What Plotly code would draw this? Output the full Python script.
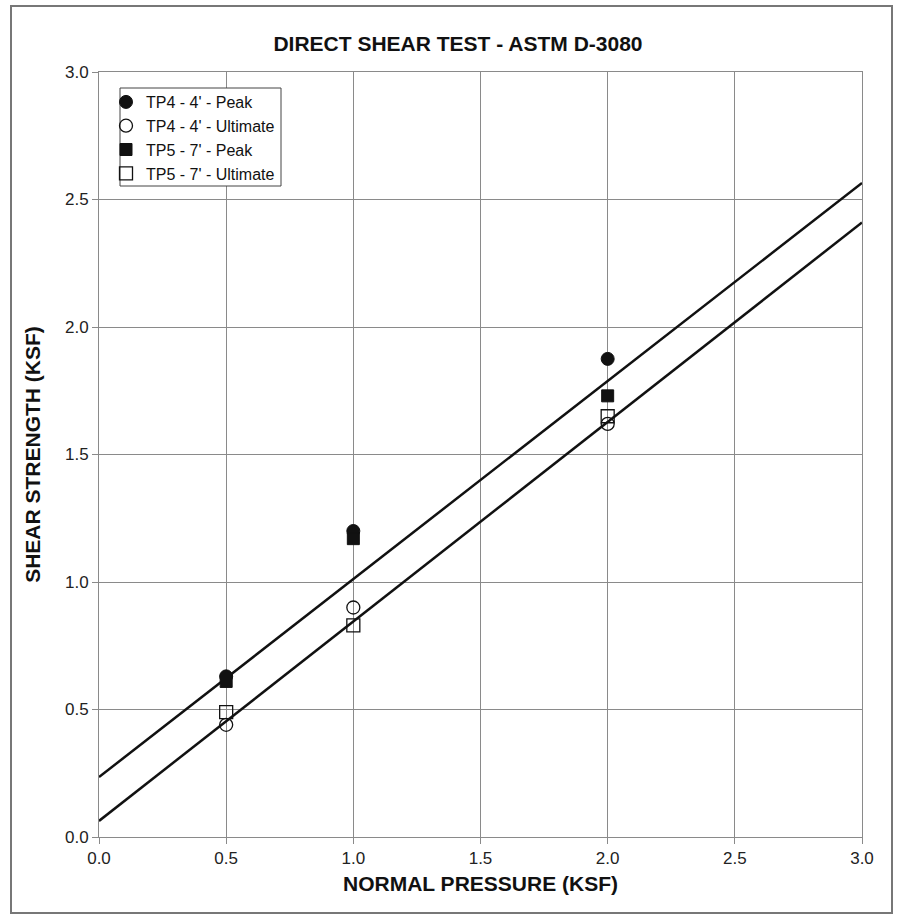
import plotly.graph_objects as go

# Data
normal_pressure = [0.5, 1.0, 2.0]
tp4_peak = [0.63, 1.20, 1.875]
tp4_ult = [0.44, 0.90, 1.62]
tp5_peak = [0.61, 1.17, 1.73]
tp5_ult = [0.49, 0.83, 1.65]

fit_x = [0.0, 3.0]
peak_fit = [0.235, 2.565]
ult_fit = [0.063, 2.41]

x_ticks = [0.0, 0.5, 1.0, 1.5, 2.0, 2.5, 3.0]
y_ticks = [0.0, 0.5, 1.0, 1.5, 2.0, 2.5, 3.0]

FONT = "Liberation Sans, Arial, sans-serif"

fig = go.Figure()

fig.add_trace(go.Scatter(x=fit_x, y=peak_fit, mode="lines", showlegend=False,
                         line=dict(color="#111111", width=2.5), hoverinfo="skip"))
fig.add_trace(go.Scatter(x=fit_x, y=ult_fit, mode="lines", showlegend=False,
                         line=dict(color="#111111", width=2.5), hoverinfo="skip"))

fig.add_trace(go.Scatter(x=normal_pressure, y=tp4_peak, mode="markers",
                         name="TP4 - 4' - Peak",
                         marker=dict(symbol="circle", size=13, color="#111111",
                                     line=dict(color="#111111", width=1))))
fig.add_trace(go.Scatter(x=normal_pressure, y=tp4_ult, mode="markers",
                         name="TP4 - 4' - Ultimate",
                         marker=dict(symbol="circle-open", size=13, color="#111111",
                                     line=dict(color="#111111", width=1.3))))
fig.add_trace(go.Scatter(x=normal_pressure, y=tp5_peak, mode="markers",
                         name="TP5 - 7' - Peak",
                         marker=dict(symbol="square", size=12, color="#111111",
                                     line=dict(color="#111111", width=1))))
fig.add_trace(go.Scatter(x=normal_pressure, y=tp5_ult, mode="markers",
                         name="TP5 - 7' - Ultimate",
                         marker=dict(symbol="square-open", size=13, color="#111111",
                                     line=dict(color="#111111", width=1.3))))

W, H = 897, 918
L, R, T, B = 99, 35, 72, 81
pw, ph = W - L - R, H - T - B

def px(x):
    return (x - L) / pw

def py(y):
    return (H - B - y) / ph

fig.update_layout(
    width=W, height=H,
    margin=dict(l=L, r=R, t=T, b=B),
    paper_bgcolor="white", plot_bgcolor="white",
    font=dict(family=FONT, size=15, color="#222222"),
    title=dict(text="<b>DIRECT SHEAR TEST - ASTM D-3080</b>",
               xref="container", x=458 / W, xanchor="center",
               y=1 - 44 / H, yanchor="middle",
               font=dict(family=FONT, size=21, color="#111111")),
    xaxis=dict(range=[0, 3], tickvals=x_ticks,
               ticktext=[f"{v:.1f}" for v in x_ticks],
               showgrid=True, gridcolor="#8a8a8a", gridwidth=1,
               showline=True, linecolor="#8a8a8a", linewidth=1, mirror=True,
               ticks="outside", ticklen=6, tickcolor="#8a8a8a",
               zeroline=False,
               tickfont=dict(family=FONT, size=17, color="#222222"),
               title=dict(text="<b>NORMAL PRESSURE (KSF)</b>", standoff=8,
                          font=dict(family=FONT, size=21, color="#111111"))),
    yaxis=dict(range=[0, 3], tickvals=y_ticks,
               ticktext=[f"{v:.1f}" for v in y_ticks],
               showgrid=True, gridcolor="#8a8a8a", gridwidth=1,
               showline=True, linecolor="#8a8a8a", linewidth=1, mirror=True,
               ticks="outside", ticklen=6, tickcolor="#8a8a8a",
               zeroline=False,
               tickfont=dict(family=FONT, size=17, color="#222222"),
               title=dict(text="<b>SHEAR STRENGTH (KSF)</b>", standoff=18,
                          font=dict(family=FONT, size=21, color="#111111"))),
    legend=dict(x=px(106), y=py(85), xanchor="left", yanchor="top",
                bgcolor="rgba(0,0,0,0)", borderwidth=0,
                font=dict(family=FONT, size=16, color="#111111"),
                itemwidth=30, tracegroupgap=0),
    shapes=[dict(type="rect", xref="paper", yref="paper",
                 x0=px(11), x1=px(892), y0=py(913), y1=py(6),
                 line=dict(color="#777777", width=2), layer="below"),
            dict(type="rect", xref="paper", yref="paper",
                 x0=px(120), x1=px(281), y0=py(186), y1=py(88),
                 fillcolor="white", line=dict(color="#444444", width=1),
                 layer="above")],
)

fig.write_html("out.html")
